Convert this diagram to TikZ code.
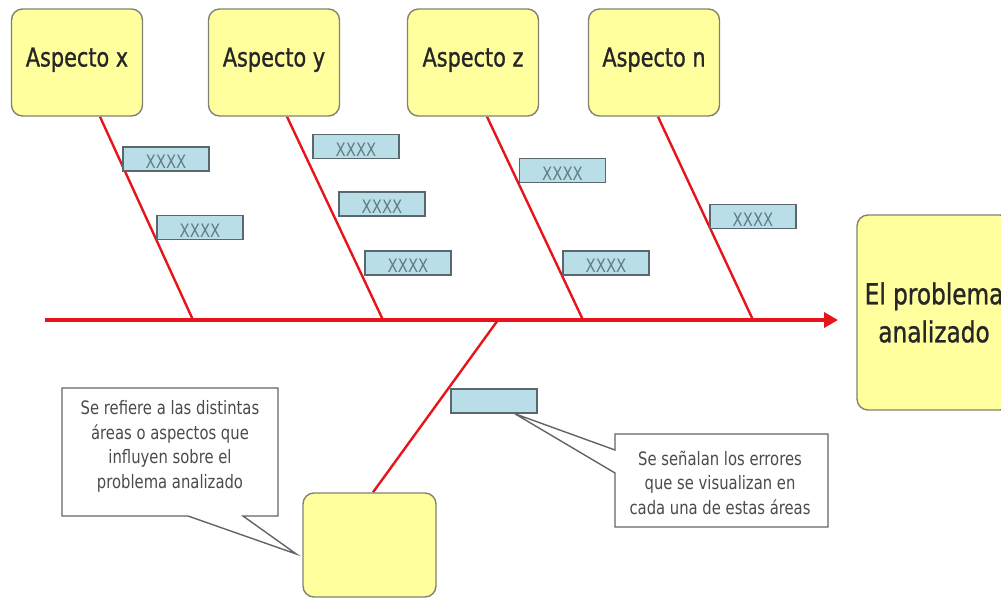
\documentclass[tikz,border=0pt]{standalone}
\usepackage{fontspec}
\setmainfont{DejaVu Sans}[FakeStretch=0.8]
\newfontfamily\boxfont{DejaVu Sans}[FakeStretch=0.8, FakeBold=1]
\usetikzlibrary{arrows.meta,calc,backgrounds}
\definecolor{boneRed}{RGB}{232,20,28}
\definecolor{noteYellow}{RGB}{255,255,158}
\definecolor{noteEdge}{RGB}{130,130,115}
\definecolor{tagBlue}{RGB}{186,222,231}
\definecolor{tagEdge}{RGB}{88,104,110}
\definecolor{tagText}{RGB}{95,125,135}
\definecolor{calloutEdge}{RGB}{100,100,100}
\definecolor{calloutText}{RGB}{75,75,75}
\begin{document}
\begin{tikzpicture}[x=1pt,y=-1pt,
  aspect/.style={draw=noteEdge, line width=1.4pt, fill=noteYellow, rounded corners=11pt,
    minimum width=131pt, minimum height=107pt, inner sep=0pt,
    font=\boxfont\fontsize{26}{30}\selectfont, text=black!85, text height=20pt, text depth=12pt},
  tag/.style={draw=tagEdge, line width=1.6pt, fill=tagBlue, minimum width=86pt,
    minimum height=24pt, inner sep=0pt, font=\fontsize{18.5}{20}\selectfont,
    text=tagText, text height=20pt, text depth=0.5pt},
  spine/.style={draw=boneRed, line width=4pt, -{Triangle[length=14pt,width=15pt]}},
  bone/.style={draw=boneRed, line width=2.4pt},
  callout/.style={draw=calloutEdge, line width=1.4pt, fill=white, line join=miter},
  ctext/.style={align=center, inner sep=0pt, text=calloutText,
    font=\fontsize{18.5}{24.5}\selectfont}
]
\useasboundingbox (0,0) rectangle (1001,598);

% aspect boxes and the problem box
\node[aspect] (ax) at (77,62.5) {Aspecto x};
\node[aspect] (ay) at (274,62.5) {Aspecto y};
\node[aspect] (az) at (473,62.5) {Aspecto z};
\node[aspect] (an) at (654,62.5) {Aspecto n};
\node[aspect, minimum width=154pt, minimum height=195pt, text height=, text depth=,
  align=center, font=\boxfont\fontsize{29}{38}\selectfont] (prob) at (934,312.5) {El problema\\analizado};
\node[aspect, minimum width=133pt, minimum height=104pt] (low) at (369.5,545) {};

% spine and its joints
\coordinate (tail) at (45,320);
\coordinate (head) at (838,320);
\coordinate (jx) at (193,320);
\coordinate (jy) at (383,320);
\coordinate (jz) at (583,320);
\coordinate (jn) at (753,320);
\coordinate (jlow) at (498,320);

% bones behind the boxes
\begin{scope}[on background layer]
\draw[spine] (tail) -- (head);
\draw[bone] ($(ax.south)+(23,0)$) -- (jx);
\draw[bone] ($(ay.south)+(13,0)$) -- (jy);
\draw[bone] ($(az.south)+(14,0)$) -- (jz);
\draw[bone] ($(an.south)+(4,0)$) -- (jn);
\draw[bone] (jlow) -- ($(low.north)+(3.5,0)$);
\end{scope}

% cause tags
\node[tag] (t1) at (166,159) {XXXX};
\node[tag] (t2) at (200,227.5) {XXXX};
\node[tag] (t3) at (356,146.5) {XXXX};
\node[tag] (t4) at (382,204) {XXXX};
\node[tag] (t5) at (408,263) {XXXX};
\node[tag] (t6) at (562.5,170.5) {XXXX};
\node[tag] (t7) at (606,263) {XXXX};
\node[tag] (t8) at (753,216.5) {XXXX};
\node[tag] (t9) at (494,401) {};

% left callout
\coordinate (c1tip) at ($(low.west)+(-6,9)$);
\draw[callout] (62,388) -- (278,388) -- (278,516) -- (243,516) -- (c1tip)
  -- (188,516) -- (62,516) -- cycle;
\node[ctext] (c1) at (170,446.5) {Se refiere a las distintas\\áreas o aspectos que\\influyen sobre el\\problema analizado};

% right callout
\coordinate (c2tip) at ($(t9.south)+(21,0)$);
\draw[callout] (615,434) -- (828,434) -- (828,527) -- (615,527) -- (615,473)
  -- (c2tip) -- (615,450) -- cycle;
\node[ctext] (c2) at (720,482.5) {Se señalan los errores\\que se visualizan en\\cada una de estas áreas};
\end{tikzpicture}
\end{document}
